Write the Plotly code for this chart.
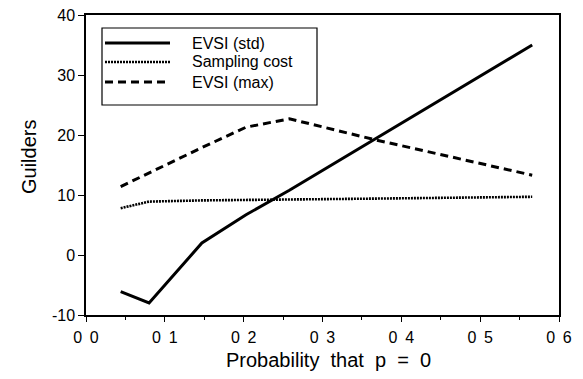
import plotly.graph_objects as go

# Data
prob = [0.044, 0.080, 0.147, 0.203, 0.258, 0.367, 0.566]
evsi_std = [-6.1, -8.0, 2.0, 6.7, 10.8, 19.4, 35.0]
sampling_cost = [7.8, 8.9, 9.1, 9.2, 9.3, 9.4, 9.7]
evsi_max = [11.4, 13.7, 17.9, 21.3, 22.7, 19.2, 13.3]

series_names = ["EVSI (std)", "Sampling cost", "EVSI (max)"]
x_tickvals = [0.0, 0.1, 0.2, 0.3, 0.4, 0.5, 0.6]
x_ticktext = ["0\u00a0\u20090", "0\u00a0\u20091", "0\u00a0\u20092", "0\u00a0\u20093",
              "0\u00a0\u20094", "0\u00a0\u20095", "0\u00a0\u20096"]
y_tickvals = [-10, 0, 10, 20, 30, 40]
y_ticktext = ["-10", "0", "10", "20", "30", "40"]
x_title = "Probability\u00a0 that\u00a0 p\u00a0 =\u00a0 0"
y_title = "Guilders"

FONT = "Liberation Sans, Arial, Helvetica, sans-serif"
styles = [
    dict(color="black", width=3, dash="solid"),
    dict(color="black", width=2.6, dash="2px,1px"),
    dict(color="black", width=3, dash="8px,5px"),
]
series = [evsi_std, sampling_cost, evsi_max]

fig = go.Figure()
for name, ys, st in zip(series_names, series, styles):
    fig.add_trace(go.Scatter(x=prob, y=ys, mode="lines", name=name,
                             line=st, showlegend=False))

# Page is 583x379; the html body has an 8px default margin
OFF = 8
PW, PH = 583, 379
W, H = PW - OFF, PH - OFF
plot_l, plot_r, plot_t, plot_b = 86, 559, 15, 315   # plot area in page pixels
ml, mt = plot_l - OFF, plot_t - OFF
mr, mb = OFF + W - plot_r, OFF + H - plot_b
pw, ph = plot_r - plot_l, plot_b - plot_t
def px(xp): return (xp - plot_l) / pw
def py(yp): return (plot_b - yp) / ph

# Manual legend (to reproduce long line samples)
shapes = [dict(type="rect", xref="paper", yref="paper",
               x0=px(102), x1=px(317), y0=py(105), y1=py(28),
               line=dict(color="black", width=1.2), fillcolor="white", layer="above")]
annotations = []
rows = [43, 62, 82]
for name, st, ry in zip(series_names, styles, rows):
    shapes.append(dict(type="line", xref="paper", yref="paper",
                       x0=px(105), x1=px(170), y0=py(ry), y1=py(ry),
                       line=st, layer="above"))
    annotations.append(dict(xref="paper", yref="paper", x=px(190), y=py(ry),
                            text=name, showarrow=False, xanchor="left", yanchor="middle",
                            font=dict(family=FONT, size=16, color="black")))

# Axis titles
annotations.append(dict(xref="paper", yref="paper", x=px(328), y=py(360),
                        text=x_title, showarrow=False, xanchor="center", yanchor="middle",
                        font=dict(family=FONT, size=20, color="black")))
annotations.append(dict(xref="paper", yref="paper", x=px(29), y=py(157),
                        text=y_title, showarrow=False, xanchor="center", yanchor="middle",
                        textangle=-90,
                        font=dict(family=FONT, size=20, color="black")))

fig.update_layout(
    width=W, height=H,
    margin=dict(l=ml, r=mr, t=mt, b=mb, autoexpand=False),
    paper_bgcolor="white", plot_bgcolor="white",
    font=dict(family=FONT, size=16, color="black"),
    shapes=shapes, annotations=annotations,
    xaxis=dict(range=[0, 0.6], tickvals=x_tickvals, ticktext=x_ticktext,
               automargin=False, ticklabelstandoff=2, ticklabeloverflow="allow",
               showgrid=False, zeroline=False, showline=True, linecolor="black",
               linewidth=1.5, mirror=True, ticks="outside", ticklen=5, tickwidth=1.2,
               tickcolor="black",
               minor=dict(tickvals=[0.05, 0.15, 0.25, 0.35, 0.45, 0.55],
                          ticks="outside", ticklen=3, tickcolor="black", tickwidth=1)),
    yaxis=dict(range=[-10, 40], tickvals=y_tickvals, ticktext=y_ticktext,
               automargin=False, ticklabeloverflow="allow",
               showgrid=False, zeroline=False, showline=True, linecolor="black",
               linewidth=1.5, mirror=True, ticks="outside", ticklen=6, tickwidth=1.2,
               tickcolor="black"),
)

fig.write_html("out.html")
